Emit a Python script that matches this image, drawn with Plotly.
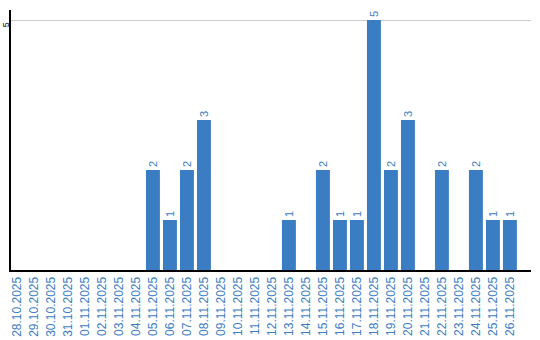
import plotly.graph_objects as go

dates = ["28.10.2025","29.10.2025","30.10.2025","31.10.2025","01.11.2025","02.11.2025",
         "03.11.2025","04.11.2025","05.11.2025","06.11.2025","07.11.2025","08.11.2025",
         "09.11.2025","10.11.2025","11.11.2025","12.11.2025","13.11.2025","14.11.2025",
         "15.11.2025","16.11.2025","17.11.2025","18.11.2025","19.11.2025","20.11.2025",
         "21.11.2025","22.11.2025","23.11.2025","24.11.2025","25.11.2025","26.11.2025"]
counts = [0,0,0,0,0,0,0,0,2,1,2,3,0,0,0,0,1,0,2,1,1,5,2,3,0,2,0,2,1,1]

labels = [str(v) if v > 0 else "" for v in counts]
blue = "#3b7dc3"

fig = go.Figure(go.Bar(
    x=list(range(len(dates))), y=counts, text=labels,
    textposition="outside", textangle=-90, cliponaxis=False,
    textfont=dict(color=blue, size=11, family="Liberation Sans, Arial"),
    marker=dict(color=blue, line=dict(width=0)), width=0.82,
))
fig.update_layout(
    width=540, height=340, margin=dict(l=11, r=9, t=10, b=70),
    plot_bgcolor="white", paper_bgcolor="white", showlegend=False,
    font=dict(family="Liberation Sans, Arial"),
)
fig.update_xaxes(
    range=[-0.35, 30.24], tickmode="array", tickvals=list(range(len(dates))),
    ticktext=dates, tickangle=-90, tickfont=dict(color=blue, size=12),
    showline=True, linecolor="black", linewidth=2, showgrid=False, ticks="",
    zeroline=False, automargin=False,
)
fig.update_yaxes(
    range=[0, 5.2], tickmode="array", tickvals=[5], ticktext=["5"], tickangle=-90,
    tickfont=dict(color="black", size=9), showgrid=True, gridcolor="#cccccc",
    gridwidth=1, showline=True, linecolor="black", linewidth=2, zeroline=False,
    ticks="", ticklen=0, automargin=False, ticklabelstandoff=-4, ticklabelshift=6,
)
fig.write_html("out.html")
